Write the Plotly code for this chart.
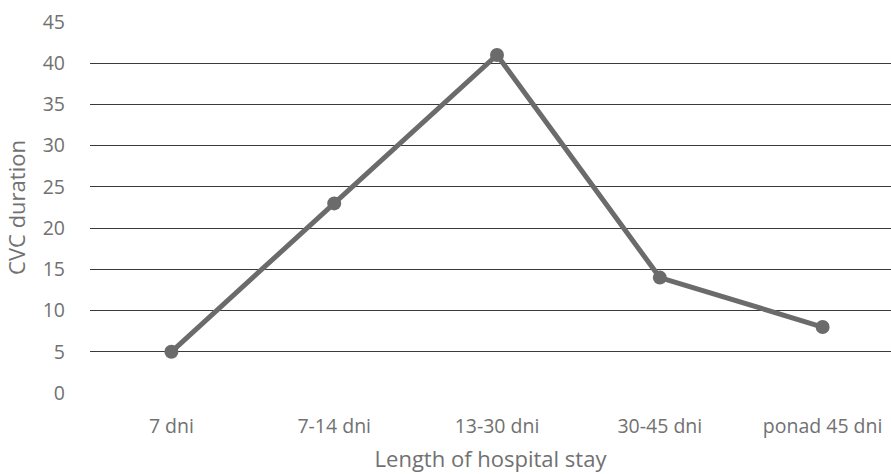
import plotly.graph_objects as go

categories = ["7 dni", "7-14 dni", "13-30 dni", "30-45 dni", "ponad 45 dni"]
cvc_duration = [5, 23, 41, 14, 8]
y_ticks = [0, 5, 10, 15, 20, 25, 30, 35, 40, 45]

text_color = "#717171"
font_family = "Open Sans, Liberation Sans, sans-serif"

fig = go.Figure(
    go.Scatter(
        x=list(range(len(categories))),
        y=cvc_duration,
        mode="lines+markers",
        line=dict(color="#6b6b6b", width=5),
        marker=dict(color="#6b6b6b", size=14),
        showlegend=False,
    )
)

fig.update_layout(
    width=891,
    height=474,
    margin=dict(l=90, r=0, t=22, b=81, autoexpand=False),
    plot_bgcolor="white",
    paper_bgcolor="white",
    font=dict(family=font_family, color=text_color, size=19),
    xaxis=dict(
        range=[-0.5, 4.42],
        tickmode="array",
        tickvals=list(range(len(categories))),
        ticktext=categories,
        tickfont=dict(size=19.5),
        showgrid=False,
        zeroline=False,
        showline=False,
        ticks="",
        ticklabelstandoff=19,
        automargin=False,
        title=dict(text="Length of hospital stay", font=dict(size=22, color=text_color), standoff=14),
    ),
    yaxis=dict(
        range=[0, 45],
        tickmode="array",
        tickvals=y_ticks,
        tickfont=dict(size=19.5),
        showgrid=True,
        gridcolor="#3a3a3a",
        gridwidth=1,
        zeroline=False,
        showline=False,
        ticks="",
        ticklabelstandoff=24,
        automargin=False,
        title=dict(text="CVC duration", font=dict(size=22, color=text_color), standoff=10),
    ),
)

fig.write_html("out.html")
